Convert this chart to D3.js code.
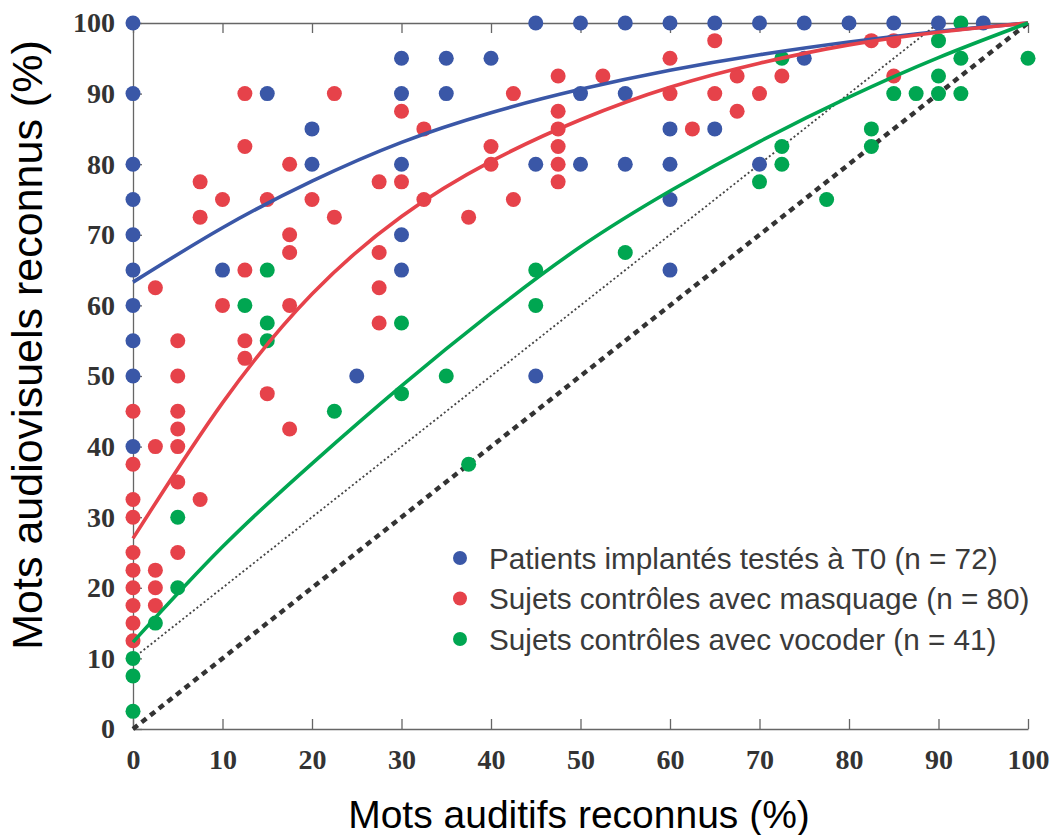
<!DOCTYPE html>
<html><head><meta charset="utf-8">
<script src="https://cdn.jsdelivr.net/npm/d3@7"></script>
<style>body{margin:0;background:#fff}</style>
</head><body>
<svg id="c" width="1053" height="835"></svg>
<script>
// ---- data ----
const xTicks = [0,10,20,30,40,50,60,70,80,90,100];
const yTicks = [0,10,20,30,40,50,60,70,80,90,100];
const seriesNames = ["Patients implantés testés à T0 (n = 72)","Sujets contrôles avec masquage (n = 80)","Sujets contrôles avec vocoder (n = 41)"];
const seriesColors = ["#3a57a7","#e6424a","#00a651"];

const implantPts = [[0,100],[0,90],[0,80],[0,75],[0,70],[0,65],[0,60],[0,55],[0,50],[0,40],
 [10,65],[15,90],[20,85],[20,80],[25,50],[30,95],[30,90],[30,80],[30,70],[30,65],
 [35,95],[35,90],[40,95],[45,100],[45,80],[45,50],[50,100],[50,90],[50,80],
 [55,100],[55,90],[55,80],[60,100],[60,85],[60,80],[60,75],[60,65],
 [65,100],[65,85],[70,100],[70,80],[75,100],[75,95],[80,100],[85,100],[90,100],[95,100]];
const masqPts = [[0,45],[0,37.5],[0,32.5],[0,30],[0,25],[0,22.5],[0,20],[0,17.5],[0,15],[0,12.5],
 [2.5,62.5],[2.5,40],[2.5,22.5],[2.5,20],[2.5,17.5],
 [5,55],[5,50],[5,45],[5,42.5],[5,40],[5,35],[5,25],
 [7.5,77.5],[7.5,72.5],[7.5,32.5],[10,75],[10,60],
 [12.5,90],[12.5,82.5],[12.5,65],[12.5,55],[12.5,52.5],[15,75],[15,47.5],
 [17.5,80],[17.5,70],[17.5,67.5],[17.5,60],[17.5,42.5],[20,75],[22.5,90],[22.5,72.5],
 [27.5,77.5],[27.5,67.5],[27.5,62.5],[27.5,57.5],[30,87.5],[30,77.5],[32.5,85],[32.5,75],
 [37.5,72.5],[40,82.5],[40,80],[42.5,90],[42.5,75],
 [47.5,92.5],[47.5,87.5],[47.5,85],[47.5,82.5],[47.5,80],[47.5,77.5],[52.5,92.5],
 [60,95],[60,90],[62.5,85],[65,97.5],[65,90],[67.5,92.5],[67.5,87.5],[70,90],[72.5,92.5],
 [82.5,97.5],[85,97.5],[85,92.5]];
const vocPts = [[0,10],[0,7.5],[0,2.5],[2.5,15],[5,20],[5,30],[12.5,60],[15,65],[15,57.5],[15,55],
 [22.5,45],[30,57.5],[30,47.5],[35,50],[37.5,37.5],[45,65],[45,60],[55,67.5],[70,77.5],
 [72.5,95],[72.5,82.5],[72.5,80],[77.5,75],[82.5,85],[82.5,82.5],[85,90],[87.5,90],
 [90,97.5],[90,92.5],[90,90],[92.5,100],[92.5,95],[92.5,90],[100,95]];

const fitX = [0,10,20,30,40,50,60,70,80,90,100];
const implantFit = [63.3,71.0,77.6,83.1,87.3,90.6,93.3,95.5,97.3,98.8,100];
const masqFit = [27,46.2,61.6,72.6,80.4,86.3,90.9,94.3,96.9,98.7,100];
const vocFit = [12.3,25.8,37.6,48.6,58.9,68.3,76.2,83.2,89.5,95.1,100];

const diagLine = [[0,0],[100,100]];
const offsetLine = [[0,10],[90,100]];

const xTitle = "Mots auditifs reconnus (%)";
const yTitle = "Mots audiovisuels reconnus (%)";

// ---- drawing ----
const svg = d3.select("#c");
const x = d3.scaleLinear().domain([0,100]).range([133,1028]);
const y = d3.scaleLinear().domain([0,100]).range([729,23]);
const axisColor = "#666";
const tickFont = "'Liberation Serif', 'Times New Roman', serif";

function styleAxis(g){
  g.select(".domain").attr("stroke",axisColor).attr("stroke-width",1.3);
  g.selectAll(".tick line").attr("stroke",axisColor).attr("stroke-width",1.3);
  g.selectAll(".tick text").attr("fill","#333").style("font-family",tickFont)
   .style("font-weight","bold").style("font-size","28px");
}
svg.append("g").attr("transform","translate(0,729)")
  .call(d3.axisBottom(x).tickValues(xTicks).tickSize(-10).tickSizeOuter(0).tickPadding(20).tickFormat(d3.format("d")))
  .call(styleAxis);
svg.append("g").attr("transform","translate(133,0)")
  .call(d3.axisLeft(y).tickValues(yTicks).tickSize(-9).tickSizeOuter(0).tickPadding(18).tickFormat(d3.format("d")))
  .call(styleAxis);
svg.append("g").attr("transform","translate(0,23)")
  .call(d3.axisTop(x).tickValues(xTicks).tickSize(-10).tickSizeOuter(0).tickFormat(""))
  .call(styleAxis);

const line = d3.line().x(d=>x(d[0])).y(d=>y(d[1]));
svg.append("path").attr("d",line(diagLine)).attr("fill","none")
  .attr("stroke","#333").attr("stroke-width",4.5).attr("stroke-dasharray","6,5");
svg.append("path").attr("d",line(offsetLine)).attr("fill","none")
  .attr("stroke","#444").attr("stroke-width",1.8).attr("stroke-dasharray","2,2.5");

const allPts = [implantPts, masqPts, vocPts];
allPts.forEach((pts,i)=>{
  svg.append("g").selectAll("circle").data(pts).join("circle")
    .attr("cx",d=>x(d[0])).attr("cy",d=>y(d[1])).attr("r",7.5)
    .attr("fill",seriesColors[i]);
});

const fits = [implantFit, masqFit, vocFit];
const curveLine = d3.line().x((d,i)=>x(fitX[i])).y(d=>y(d)).curve(d3.curveNatural);
fits.forEach((f,i)=>{
  svg.append("path").attr("d",curveLine(f)).attr("fill","none")
    .attr("stroke",seriesColors[i]).attr("stroke-width",3.6);
});

// legend
const leg = svg.append("g");
seriesNames.forEach((n,i)=>{
  const yy = 558 + i*40.5;
  leg.append("circle").attr("cx",460).attr("cy",yy).attr("r",7).attr("fill",seriesColors[i]);
  leg.append("text").attr("x",489).attr("y",yy).attr("dy","0.36em").text(n)
    .style("font-family","'Liberation Sans', Arial, sans-serif").style("font-size","29.7px").attr("fill","#3a3a3a");
});

// titles
svg.append("text").attr("x",579).attr("y",828).attr("text-anchor","middle").text(xTitle)
  .style("font-family","'Liberation Sans', Arial, sans-serif").style("font-size","39px").attr("fill","#000");
svg.append("text").attr("transform","translate(42,345) rotate(-90)").attr("text-anchor","middle").text(yTitle)
  .style("font-family","'Liberation Sans', Arial, sans-serif").style("font-size","43px").attr("fill","#000");
</script>
</body></html>
